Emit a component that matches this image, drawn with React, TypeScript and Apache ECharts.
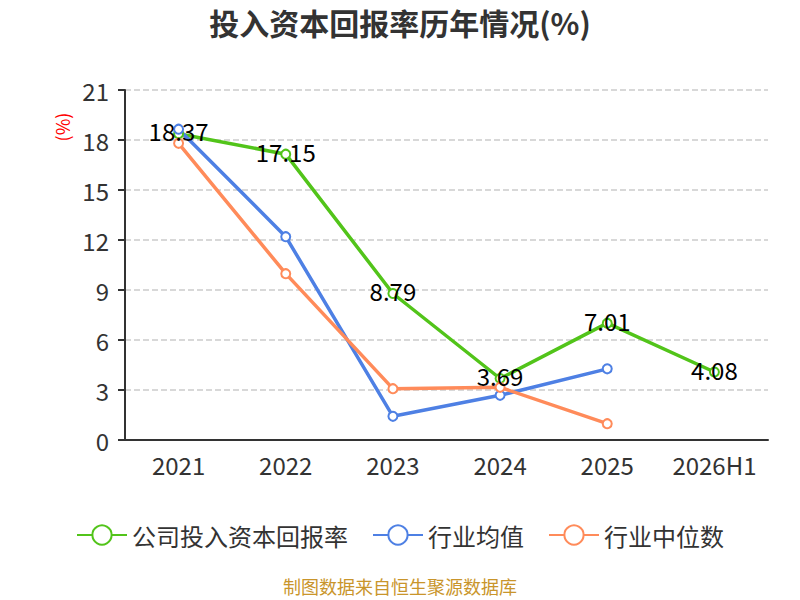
import * as echarts from 'echarts'
import { useEffect, useRef } from 'react'

const categories = ['2021', '2022', '2023', '2024', '2025', '2026H1']
const companyRoic = [18.37, 17.15, 8.79, 3.69, 7.01, 4.08]
const industryAvg = [18.65, 12.2, 1.42, 2.68, 4.27, null]
const industryMedian = [17.8, 9.98, 3.08, 3.16, 0.98, null]

const FONT = '"Noto Sans CJK SC", "Noto Sans", sans-serif'

export default function App() {
  const chartRef = useRef<HTMLDivElement>(null)

  useEffect(() => {
    if (!chartRef.current) return
    const chart = echarts.init(chartRef.current, null, { renderer: 'svg' })

    const lineSeries = (name: string, data: (number | null)[], color: string) => ({
      name,
      type: 'line' as const,
      data,
      symbol: 'emptyCircle',
      symbolSize: 9,
      lineStyle: { width: 3.5, color },
      itemStyle: { color, borderWidth: 2 },
    })

    chart.setOption({
      animation: false,
      textStyle: { fontFamily: FONT },
      title: {
        text: '投入资本回报率历年情况(%)',
        left: 'center',
        top: 2,
        textStyle: { fontSize: 30, fontWeight: 'bold', color: '#333', fontFamily: FONT },
      },
      legend: {
        top: 518,
        left: 'center',
        itemWidth: 50,
        itemHeight: 24,
        itemGap: 24,
        textStyle: { fontSize: 24, color: '#333', fontFamily: FONT },
        data: ['公司投入资本回报率', '行业均值', '行业中位数'],
      },
      grid: { left: 125, right: 32, top: 90, bottom: 160 },
      xAxis: {
        type: 'category',
        data: categories,
        axisLine: { lineStyle: { color: '#333', width: 2 } },
        axisTick: { lineStyle: { color: '#333', width: 2 }, length: 7 },
        axisLabel: { fontSize: 24, color: '#333', margin: 12, interval: 0 },
      },
      yAxis: {
        type: 'value',
        min: 0,
        max: 21,
        interval: 3,
        axisLine: { show: true, lineStyle: { color: '#333', width: 2 } },
        axisTick: { show: true, lineStyle: { color: '#333', width: 2 }, length: 7 },
        axisLabel: { fontSize: 24, color: '#333', margin: 16 },
        splitLine: { lineStyle: { type: 'dashed', color: '#ccc', width: 1.5 } },
      },
      series: [
        {
          ...lineSeries('公司投入资本回报率', companyRoic, '#52c41a'),
          label: {
            show: true,
            position: 'inside',
            offset: [0, -3],
            fontSize: 24,
            color: '#000',
            fontFamily: FONT,
          },
          z: 3,
        },
        lineSeries('行业均值', industryAvg, '#4e80e4'),
        lineSeries('行业中位数', industryMedian, '#ff8b5a'),
      ],
      graphic: [
        {
          type: 'text',
          x: 62,
          y: 127,
          rotation: Math.PI / 2,
          style: {
            text: '(%)',
            fill: '#ff0000',
            fontSize: 18,
            fontFamily: FONT,
            align: 'center',
            verticalAlign: 'middle',
          },
        },
        {
          type: 'text',
          left: 'center',
          top: 577,
          style: {
            text: '制图数据来自恒生聚源数据库',
            fill: '#c9952b',
            fontSize: 18,
            fontFamily: FONT,
          },
        },
      ],
    })

    return () => {
      chart.dispose()
    }
  }, [])

  return (
    <div
      ref={chartRef}
      style={{ position: 'absolute', left: 0, top: 0, width: 800, height: 600 }}
    ></div>
  )
}
